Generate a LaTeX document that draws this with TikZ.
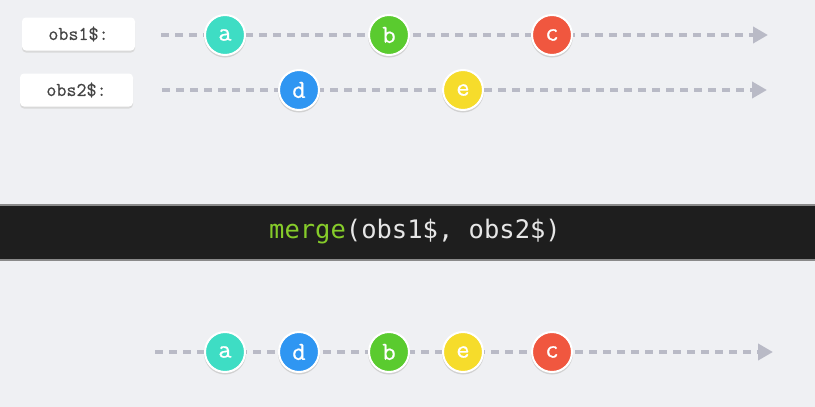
\documentclass[tikz,border=0pt]{standalone}
\usepackage{fontspec}
\setmonofont{DejaVu Sans Mono}
\newfontfamily\labfont[FakeBold=0.5]{Latin Modern Mono}
\newfontfamily\marblefont[FakeBold=0.6]{Latin Modern Mono}
\usetikzlibrary{arrows.meta}
\definecolor{bg}{HTML}{EFF0F3}
\definecolor{dashc}{HTML}{B9BAC6}
\definecolor{band}{HTML}{1E1E1E}
\definecolor{bandedge}{HTML}{8A8A8A}
\definecolor{ca}{HTML}{3EDDC4}
\definecolor{cb}{HTML}{5ACB2F}
\definecolor{cc}{HTML}{F0573F}
\definecolor{cd}{HTML}{2F96F2}
\definecolor{ce}{HTML}{F6DC2B}
\definecolor{codegreen}{HTML}{86CC2A}
\definecolor{codewhite}{HTML}{E6E6E6}
\definecolor{labtext}{HTML}{444444}
\tikzset{
  timeline/.style={draw=dashc, line width=4pt, dash pattern=on 8pt off 6pt,
    -{Triangle[length=15pt,width=16pt,fill=dashc]}},
  marble/.style={circle, minimum size=40pt, inner sep=0pt, fill=#1, draw=white,
    line width=2pt, text=white, font=\marblefont\fontsize{26}{26}\selectfont,
    preaction={fill=black!18, draw=black!18, transform canvas={yshift=-1.5pt}}},
  labelbox/.style={rectangle, rounded corners=4pt, fill=white, minimum width=113pt,
    minimum height=33pt, inner sep=0pt, text=labtext,
    font=\labfont\fontsize{19.5}{19.5}\selectfont,
    preaction={fill=black!15, transform canvas={yshift=-2pt}}},
}
\begin{document}
\begin{tikzpicture}[x=1pt,y=-1pt]
\fill[bg] (0,0) rectangle (815,407);
\useasboundingbox (0,0) rectangle (815,407);

% labels
\node[labelbox] (lab1) at (78.5,34) {obs1\$:};
\node[labelbox] (lab2) at (76.5,90) {obs2\$:};

% timeline 1
\coordinate (s1) at (161,35);
\coordinate (e1) at (768,35);
\draw[timeline] (s1) -- (e1);
\node[marble=ca] (a1) at (225,35) {a};
\node[marble=cb] (b1) at (389,35) {b};
\node[marble=cc] (c1) at (552,35) {c};

% timeline 2
\coordinate (s2) at (162,90);
\coordinate (e2) at (767,90);
\draw[timeline] (s2) -- (e2);
\node[marble=cd] (d2) at (299,90) {d};
\node[marble=ce] (e2n) at (463,90) {e};

% band
\fill[band] (0,205) rectangle (815,260);
\draw[bandedge, line width=1.2pt] (0,205) -- (815,205);
\draw[bandedge, line width=1.2pt] (0,260) -- (815,260);
\node[font=\ttfamily\fontsize{25.5}{25.5}\selectfont, text=codewhite] (code) at (415,232)
  {\textcolor{codegreen}{merge}(obs1\$, obs2\$)};

% merged timeline
\coordinate (s3) at (155,352);
\coordinate (e3) at (773,352);
\draw[timeline] (s3) -- (e3);
\node[marble=ca] (a3) at (225,352) {a};
\node[marble=cd] (d3) at (299,352) {d};
\node[marble=cb] (b3) at (389,352) {b};
\node[marble=ce] (e3n) at (463,352) {e};
\node[marble=cc] (c3) at (552,352) {c};
\end{tikzpicture}
\end{document}
